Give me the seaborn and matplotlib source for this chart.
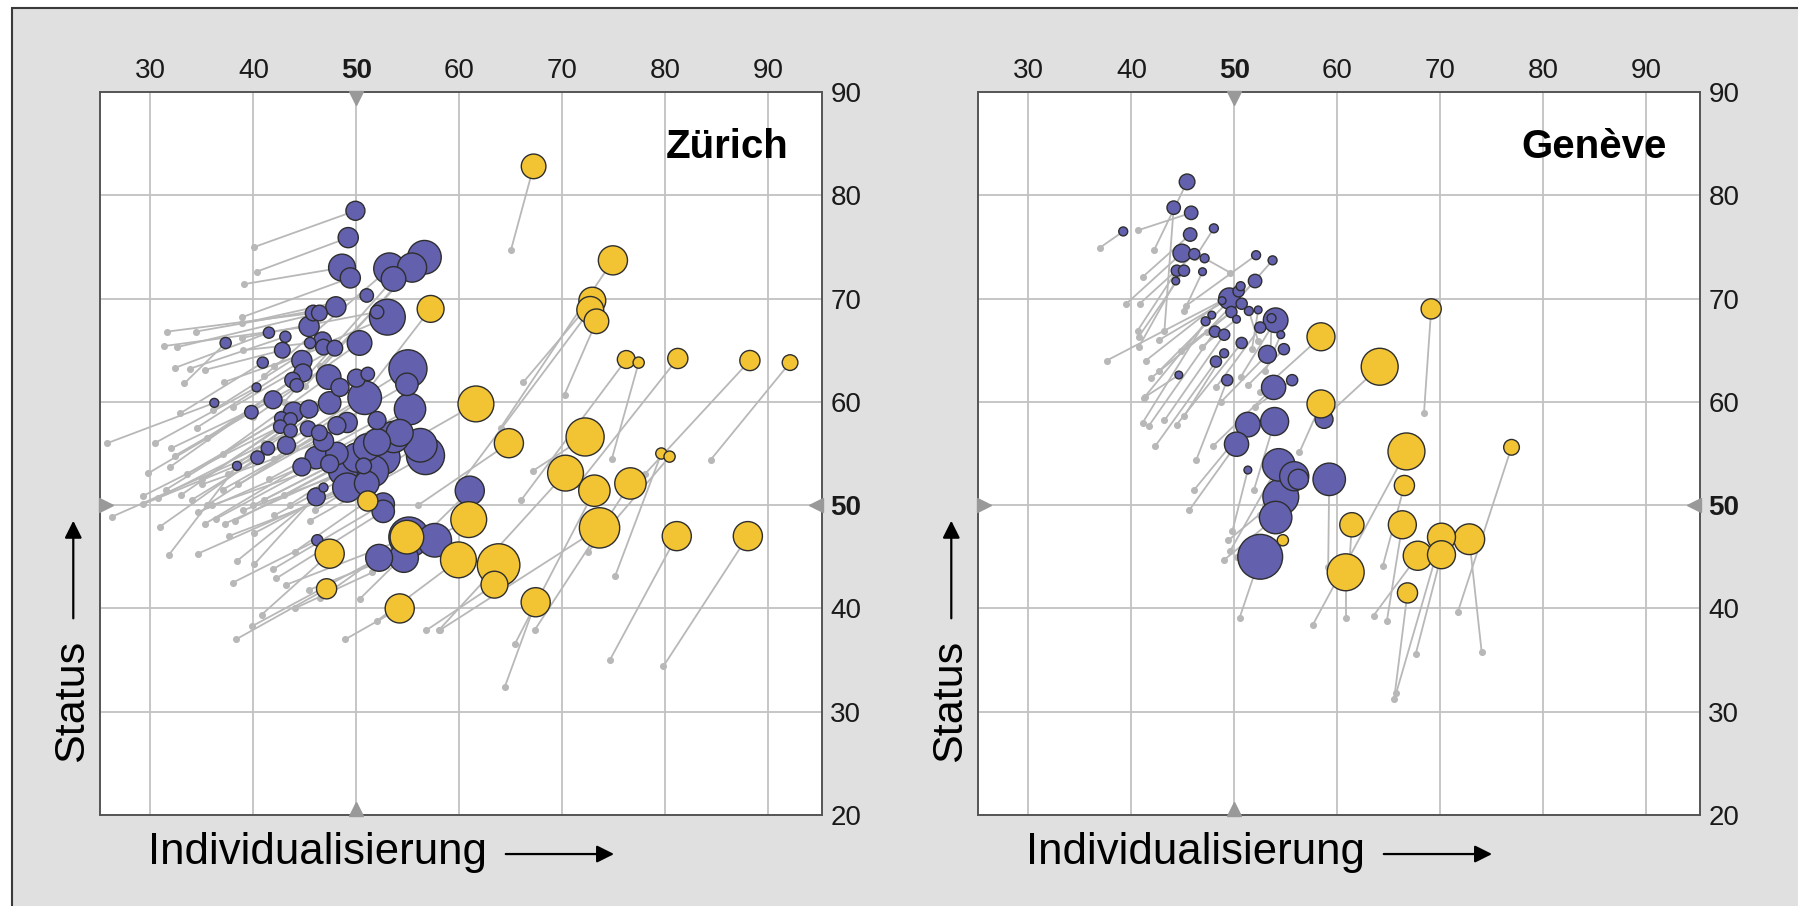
import numpy as np
import pandas as pd
import matplotlib
matplotlib.use("Agg")
import matplotlib.pyplot as plt
from matplotlib.patches import Rectangle
import seaborn as sns

# Zürich, blue group: end point (x1, y1), start point (x0, y0), size value
zh_b_x1 = [49.9, 49.2, 48.6, 49.4, 53.2, 53.6, 56.6, 55.4, 51.0, 48.0,
           45.8, 46.4, 53.0, 52.0, 45.4, 41.5, 43.1, 37.3, 42.8, 45.5,
           46.7, 46.8, 47.9, 50.3, 40.9, 44.7, 44.8, 43.8, 44.2, 47.3,
           48.4, 50.0, 51.1, 50.8, 55.0, 54.9, 55.2, 40.3, 36.2, 39.8,
           41.9, 43.9, 45.4, 42.7, 43.6, 42.6, 43.6, 45.3, 46.4, 48.1,
           49.1, 47.4, 52.0, 54.2, 56.7, 43.2, 41.4, 40.4, 38.4, 44.7,
           46.1, 48.1, 48.7, 50.0, 51.0, 51.6, 51.0, 49.1, 52.6, 50.7,
           47.4, 46.8, 52.0, 53.6, 46.1, 46.8, 52.6, 52.6, 55.1, 57.6,
           52.2, 46.2, 61.0, 56.2, 54.6]
zh_b_y1 = [78.5, 75.9, 73.0, 72.0, 72.9, 71.9, 74.0, 73.0, 70.3, 69.2,
           68.6, 68.6, 68.2, 68.7, 67.3, 66.7, 66.3, 65.7, 65.0, 65.7,
           65.9, 65.3, 65.2, 65.7, 63.8, 64.0, 62.8, 62.1, 61.6, 62.4,
           61.4, 62.3, 62.7, 60.4, 63.2, 61.7, 59.3, 61.4, 59.9, 59.0,
           60.2, 59.0, 59.3, 58.4, 58.3, 57.6, 57.2, 57.4, 57.0, 57.7,
           58.0, 59.9, 58.2, 57.0, 54.8, 55.8, 55.5, 54.6, 53.8, 53.7,
           54.6, 55.0, 53.3, 54.6, 55.6, 53.3, 52.1, 51.7, 54.6, 53.8,
           54.0, 56.2, 56.1, 56.6, 50.8, 51.7, 50.1, 49.4, 46.9, 46.6,
           44.9, 46.6, 51.4, 55.8, 44.9]
zh_b_x0 = [40.1, 40.3, 39.1, 38.9, 41.0, 43.0, 46.5, 45.0, 38.9, 34.4,
           31.6, 32.6, 42.0, 38.9, 31.3, 32.4, 33.8, 33.3, 35.3, 39.0,
           36.1, 37.1, 38.0, 40.0, 32.9, 34.5, 35.5, 31.9, 32.4, 37.0,
           38.5, 41.0, 42.5, 42.0, 45.0, 44.0, 44.5, 30.4, 25.8, 29.8,
           32.0, 33.5, 35.0, 31.5, 33.0, 29.3, 30.7, 34.0, 35.5, 37.0,
           38.5, 37.5, 41.5, 43.0, 45.5, 29.3, 26.3, 30.9, 31.8, 34.6,
           35.3, 36.4, 37.2, 38.2, 40.0, 40.1, 37.6, 34.6, 42.0, 39.0,
           36.0, 35.0, 41.0, 43.5, 38.4, 40.1, 41.9, 42.2, 43.2, 45.4,
           39.9, 38.0, 50.3, 46.0, 44.0]
zh_b_y0 = [75.0, 72.6, 71.4, 68.2, 62.5, 60.0, 63.5, 61.5, 67.6, 66.8,
           66.8, 65.3, 63.5, 66.2, 65.4, 63.3, 63.2, 61.8, 63.1, 65.0,
           59.2, 61.9, 59.5, 58.5, 58.9, 57.5, 56.5, 53.7, 54.8, 55.0,
           54.0, 56.0, 57.5, 54.5, 57.0, 55.5, 53.5, 56.0, 56.0, 53.1,
           55.5, 53.0, 52.5, 51.5, 51.0, 50.9, 50.7, 50.5, 50.0, 51.5,
           52.0, 53.0, 52.5, 51.0, 48.5, 50.1, 48.9, 47.9, 45.2, 49.3,
           48.2, 48.7, 48.2, 48.5, 50.0, 47.3, 47.0, 45.3, 49.0, 49.5,
           50.0, 52.0, 50.5, 50.0, 44.6, 44.3, 43.8, 42.9, 42.3, 41.8,
           38.3, 42.5, 40.9, 49.5, 40.0]
zh_b_bev = [72, 81, 144, 81, 196, 121, 225, 169, 36, 81,
            49, 49, 256, 36, 81, 25, 25, 25, 49, 25,
            64, 49, 49, 121, 25, 81, 64, 49, 36, 121,
            64, 64, 36, 225, 289, 100, 196, 16, 16, 36,
            64, 81, 64, 36, 36, 36, 36, 49, 49, 64,
            81, 100, 64, 144, 289, 64, 36, 36, 16, 64,
            100, 100, 169, 169, 144, 196, 121, 169, 225, 49,
            64, 81, 144, 196, 64, 16, 100, 100, 324, 225,
            144, 25, 169, 225, 169]

# Zürich, yellow group
zh_y_x1 = [67.2, 74.9, 72.9, 72.7, 73.3, 57.2, 76.2, 77.4, 81.2, 88.2,
           92.1, 61.6, 64.8, 72.2, 70.3, 73.1, 76.6, 79.6, 80.4, 51.1,
           60.9, 73.6, 81.1, 88.0, 54.9, 47.4, 59.9, 63.8, 63.4, 47.1,
           54.2, 67.4]
zh_y_y1 = [82.8, 73.7, 69.8, 68.9, 67.8, 69.0, 64.1, 63.8, 64.2, 64.0,
           63.8, 59.8, 56.0, 56.6, 53.1, 51.4, 52.1, 55.0, 54.7, 50.4,
           48.6, 47.8, 47.0, 47.0, 46.9, 45.3, 44.7, 44.2, 42.3, 41.9,
           40.0, 40.6]
zh_y_x0 = [65.0, 64.0, 66.2, 60.0, 70.2, 51.0, 66.0, 74.8, 71.5, 78.0,
           84.4, 50.5, 56.0, 67.1, 62.0, 65.4, 67.3, 75.1, 72.5, 44.0,
           51.5, 58.1, 74.6, 79.8, 46.5, 40.8, 52.0, 58.0, 56.8, 38.3,
           48.9, 64.4]
zh_y_y0 = [74.7, 57.5, 61.9, 52.0, 60.7, 61.0, 50.5, 54.5, 52.0, 53.0,
           54.4, 53.5, 50.0, 53.3, 44.0, 36.6, 37.9, 43.1, 45.5, 45.5,
           43.5, 37.9, 35.0, 34.4, 41.0, 39.4, 38.8, 37.9, 37.9, 37.0,
           37.0, 32.4]
zh_y_bev = [121, 169, 144, 144, 121, 144, 64, 25, 81, 81,
            49, 256, 169, 289, 256, 196, 196, 25, 25, 81,
            256, 324, 169, 169, 225, 169, 256, 361, 144, 81,
            169, 169]

# Genève, blue group
ge_b_x1 = [45.4, 44.1, 45.8, 39.2, 48.0, 45.7, 44.9, 46.1, 47.1, 44.4,
           45.1, 46.9, 44.3, 52.1, 53.7, 52.0, 49.5, 50.4, 50.7, 50.6,
           48.8, 49.7, 50.2, 51.4, 52.3, 54.0, 53.6, 52.5, 54.5, 47.8,
           47.2, 48.1, 49.0, 50.7, 49.0, 48.2, 53.2, 54.8, 44.6, 49.3,
           53.8, 55.6, 51.3, 53.9, 50.2, 51.3, 54.3, 55.8, 59.2, 58.7,
           54.5, 54.0, 52.5, 56.2]
ge_b_y1 = [81.3, 78.8, 78.3, 76.5, 76.8, 76.2, 74.4, 74.3, 73.9, 72.7,
           72.7, 72.6, 71.7, 74.2, 73.7, 71.7, 70.0, 70.7, 69.5, 71.2,
           69.8, 68.7, 68.0, 68.8, 68.9, 67.9, 68.1, 67.2, 66.5, 68.4,
           67.8, 66.8, 66.5, 65.7, 64.7, 63.9, 64.6, 65.1, 62.6, 62.1,
           61.4, 62.1, 57.8, 58.1, 55.9, 53.4, 53.9, 52.8, 52.5, 58.3,
           50.8, 48.8, 45.0, 52.5]
ge_b_x0 = [42.2, 43.2, 40.6, 36.9, 46.2, 41.1, 39.5, 40.8, 49.6, 40.6,
           40.7, 45.1, 40.7, 45.3, 49.8, 47.3, 42.7, 42.7, 44.8, 41.4,
           37.6, 41.9, 46.8, 52.3, 51.7, 50.6, 53.5, 48.2, 53.0, 41.3,
           41.1, 41.7, 43.2, 44.4, 45.1, 42.3, 48.7, 51.3, 41.2, 46.3,
           47.9, 52.0, 46.1, 51.9, 45.6, 49.8, 49.6, 52.5, 59.1, 58.9,
           49.4, 49.0, 50.5, 53.0]
ge_b_y0 = [74.7, 66.9, 76.6, 74.9, 74.0, 72.1, 69.5, 69.5, 72.5, 66.9,
           66.3, 68.8, 65.3, 69.3, 69.3, 66.8, 66.0, 63.0, 64.9, 64.0,
           64.0, 62.3, 65.3, 65.9, 65.1, 62.4, 64.4, 61.4, 63.0, 60.5,
           58.0, 57.7, 58.2, 57.8, 58.6, 55.7, 60.0, 61.6, 60.4, 54.4,
           55.7, 59.5, 51.5, 51.5, 49.5, 47.5, 45.6, 49.0, 44.0, 58.0,
           46.6, 44.7, 39.1, 50.0]
ge_b_bev = [49, 36, 36, 16, 16, 36, 64, 25, 16, 25,
            25, 12, 12, 16, 16, 36, 90, 25, 25, 16,
            12, 25, 12, 16, 12, 121, 16, 25, 12, 12,
            16, 25, 25, 25, 16, 25, 64, 25, 12, 25,
            117, 25, 121, 156, 117, 12, 210, 169, 210, 64,
            256, 210, 400, 81]

# Genève, yellow group
ge_y_x1 = [69.1, 58.4, 64.1, 58.4, 76.9, 66.7, 66.5, 66.3, 61.4, 60.8,
           70.1, 70.1, 67.8, 66.8, 72.8, 54.7]
ge_y_y1 = [69.0, 66.3, 63.4, 59.8, 55.6, 55.2, 51.9, 48.1, 48.1, 43.5,
           46.9, 45.2, 45.1, 41.5, 46.7, 46.6]
ge_y_x0 = [68.4, 52.5, 59.0, 56.3, 71.7, 57.6, 64.4, 64.8, 61.2, 60.8,
           65.7, 67.6, 63.5, 65.5, 74.0, 50.2]
ge_y_y0 = [58.9, 61.0, 58.7, 55.1, 39.7, 38.4, 44.1, 38.8, 45.0, 39.1,
           31.8, 35.6, 39.3, 31.2, 35.8, 45.0]
ge_y_bev = [81, 156, 272, 156, 49, 272, 81, 156, 117, 272,
            156, 156, 169, 81, 188, 25]

x_ticks = [30, 40, 50, 60, 70, 80, 90]
y_ticks = [20, 30, 40, 50, 60, 70, 80, 90]
ref = 50
cities = ["Zürich", "Genève"]


def make_df(bx1, by1, bx0, by0, bbev, yx1, yy1, yx0, yy0, ybev):
    blue = pd.DataFrame({"x1": bx1, "y1": by1, "x0": bx0, "y0": by0,
                         "bev": bbev, "grp": "A"})
    yellow = pd.DataFrame({"x1": yx1, "y1": yy1, "x0": yx0, "y0": yy0,
                           "bev": ybev, "grp": "B"})
    df = pd.concat([blue, yellow], ignore_index=True)
    return df.sort_values(["grp", "bev"], ascending=[True, False])


dfs = [
    make_df(zh_b_x1, zh_b_y1, zh_b_x0, zh_b_y0, zh_b_bev,
            zh_y_x1, zh_y_y1, zh_y_x0, zh_y_y0, zh_y_bev),
    make_df(ge_b_x1, ge_b_y1, ge_b_x0, ge_b_y0, ge_b_bev,
            ge_y_x1, ge_y_y1, ge_y_x0, ge_y_y0, ge_y_bev),
]

sns.set_style("white")
plt.rcParams["font.family"] = ["Liberation Sans", "DejaVu Sans"]
plt.rcParams["text.color"] = "black"

W, H = 1798, 906
fig = plt.figure(figsize=(W / 100, H / 100), dpi=100)
fig.patch.set_facecolor("white")
fig.add_artist(Rectangle((12 / W, -0.02), 1.0, 1.02 - 8 / H,
                         transform=fig.transFigure, facecolor="#e0e0e0",
                         edgecolor="#3a3a3a", lw=1.5, zorder=0))

palette = {"A": "#6360ad", "B": "#f2c433"}
xlim = (25.1, 95.2)
ylim = (20, 90)

for i, (df, name) in enumerate(zip(dfs, cities)):
    left = [100, 978][i]
    ax = fig.add_axes([left / W, 91 / H, 722 / W, 723 / H])
    ax.set_facecolor("white")
    ax.set_xlim(xlim)
    ax.set_ylim(ylim)

    # connecting lines and start points
    ax.plot(np.vstack([df["x0"], df["x1"]]), np.vstack([df["y0"], df["y1"]]),
            color="#b8b8b8", lw=1.3, zorder=2, solid_capstyle="round")
    sns.scatterplot(data=df, x="x0", y="y0", color="#b8b8b8", s=26,
                    linewidth=0, ax=ax, zorder=3, legend=False)
    sns.scatterplot(data=df, x="x1", y="y1", hue="grp", palette=palette,
                    size="bev", sizes=(0, 400 * 2.6), size_norm=(0, 400),
                    edgecolor="#2e2e2e", linewidth=1.0, alpha=1,
                    ax=ax, zorder=4, legend=False)

    ax.set_xticks(x_ticks)
    ax.set_yticks(y_ticks)
    ax.grid(True, color="#c2c2c2", lw=1.3)
    ax.set_axisbelow(True)
    ax.xaxis.tick_top()
    ax.yaxis.tick_right()
    ax.tick_params(length=0, labelsize=20, labelcolor="#1a1a1a")
    ax.tick_params(axis="x", pad=6)
    ax.tick_params(axis="y", pad=6)
    for lab in ax.get_xticklabels() + ax.get_yticklabels():
        if lab.get_text() == str(ref):
            lab.set_fontweight("bold")
    for sp in ax.spines.values():
        sp.set_color("#555555")
        sp.set_linewidth(1.4)
    ax.set_xlabel("")
    ax.set_ylabel("")

    # reference markers at 50
    mk = dict(color="#999999", ms=10, clip_on=False, zorder=6, ls="none")
    ax.plot([ref], [ylim[1] - 0.6], marker="v", **mk)
    ax.plot([ref], [ylim[0] + 0.6], marker="^", **mk)
    ax.plot([xlim[0] + 0.6], [ref], marker=">", **mk)
    ax.plot([xlim[1] - 0.6], [ref], marker="<", **mk)

    ax.text(0.954, 0.924, name, transform=ax.transAxes, ha="right",
            va="center", fontsize=29, fontweight="bold", color="black",
            zorder=7)

    # axis titles with arrows
    ax.text(0.066, -0.052, "Individualisierung", transform=ax.transAxes,
            ha="left", va="center", fontsize=31.5, color="black")
    ax.annotate("", xy=(0.712, -0.054), xytext=(0.562, -0.054),
                xycoords="axes fraction", annotation_clip=False,
                arrowprops=dict(arrowstyle="-|>", color="black", lw=1.6,
                                mutation_scale=26, shrinkA=0, shrinkB=0))
    ax.text(-0.039, 0.158, "Status", transform=ax.transAxes, rotation=90,
            ha="center", va="center", fontsize=31, color="black")
    ax.annotate("", xy=(-0.037, 0.407), xytext=(-0.037, 0.272),
                xycoords="axes fraction", annotation_clip=False,
                arrowprops=dict(arrowstyle="-|>", color="black", lw=1.6,
                                mutation_scale=26, shrinkA=0, shrinkB=0))

fig.savefig("out.png", dpi=100, facecolor=fig.get_facecolor())
